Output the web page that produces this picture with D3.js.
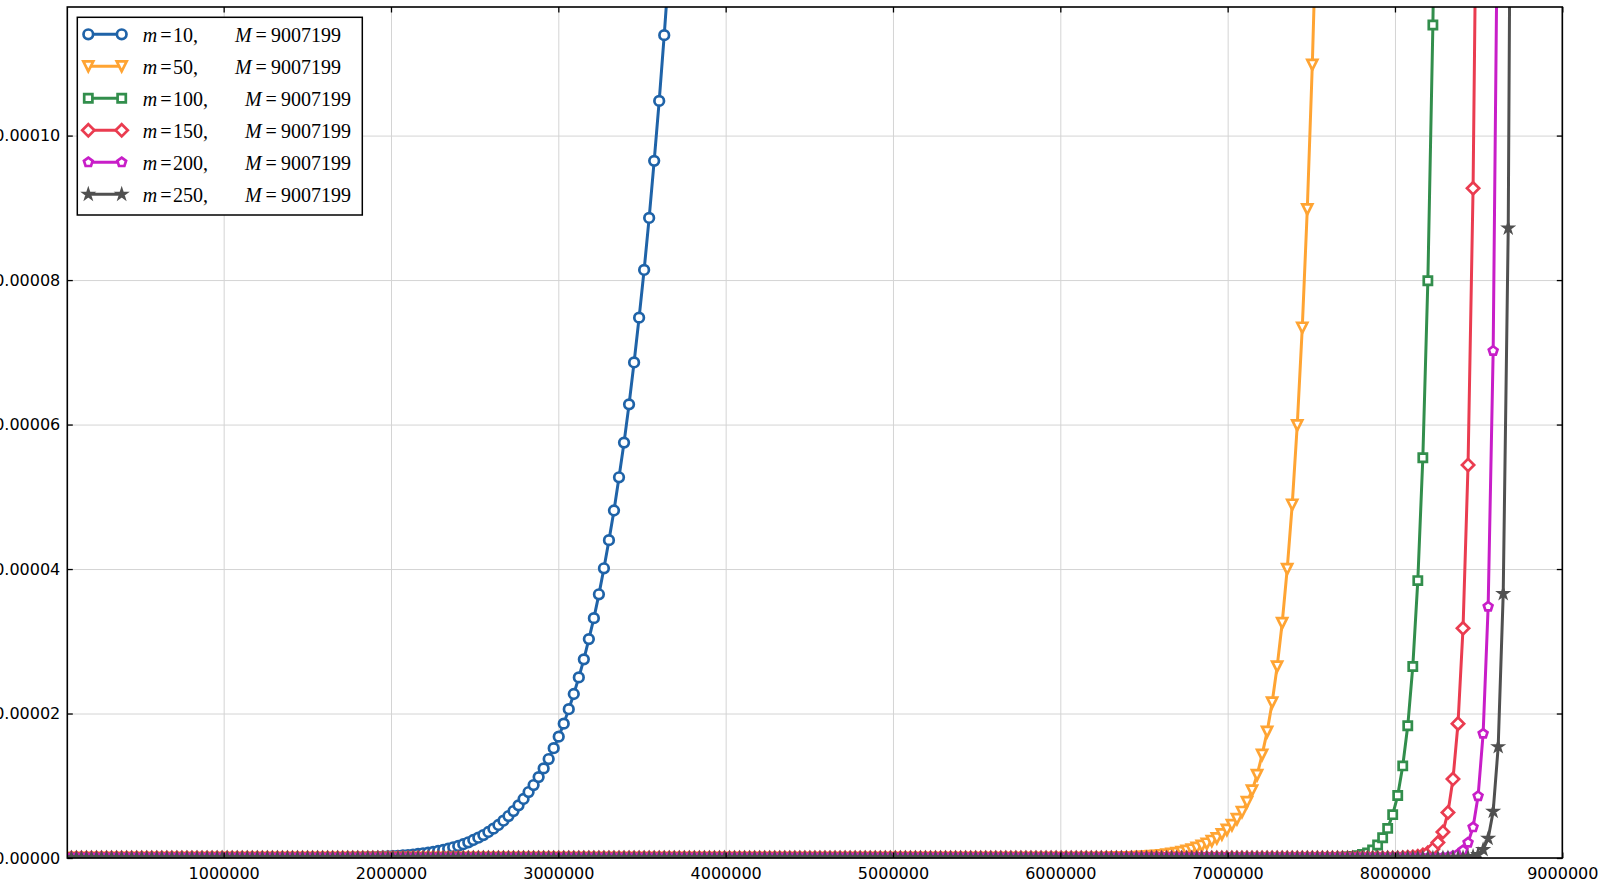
<!DOCTYPE html>
<html><head><meta charset="utf-8">
<script src="https://cdn.jsdelivr.net/npm/d3@7"></script>
<style>html,body{margin:0;padding:0;background:#fff;overflow:hidden}</style>
</head><body>
<svg id="chart" width="1600" height="893"></svg>
<script>
// ---------------- data ----------------
const M_VALUE = 9007199;
const SAMPLE_STEP = M_VALUE / 300;      // sample i sits at x = i * M / 300
const VALUE_UNIT = 1e-5;                // series values below are in units of 1e-5
const xTicks = [1000000, 2000000, 3000000, 4000000, 5000000, 6000000, 7000000, 8000000, 9000000];
const yTicks = [0, 0.00002, 0.00004, 0.00006, 0.00008, 0.00010];
const xDomain = [65536, 9000000];
const yDomain = [0, 0.0001178];
const mValues = [10, 50, 100, 150, 200, 250];

const m10Values = [
0,0,0,0,0,0,0,0,0,0, 0,0,0,0,0,0,0,0,0,0, // 0-19
0,0,0,0,0,0,0,0,0,0, 0,0,0,0,0,0,0,0,0,0, // 20-39
0,0,0,0,0,0,0,0,0,0,                      // 40-49
0,0,0,0,0,0,0,0,0.006,0.007,              // 50
0.008,0.010,0.011,0.013,0.015,0.018,0.021,0.025,0.030,0.035, // 60
0.041,0.048,0.056,0.065,0.073,0.083,0.097,0.111,0.129,0.148, // 70
0.166,0.190,0.217,0.249,0.281,0.318,0.360,0.406,0.457,0.516, // 80
0.581,0.650,0.729,0.817,0.913,1.01,1.12,1.24,1.37,1.52,      // 90
1.68,1.86,2.06,2.27,2.50,2.75,3.03,3.32,3.65,4.01,           // 100
4.40,4.81,5.27,5.75,6.28,6.86,7.48,8.14,8.86,9.65,           // 110
10.48,11.39,12.37                                            // 120
];
const m50Values = [
0,0,0,0,0,0,0,0,0,0, 0,0,0,0,0,0,0,0,0,0, // 0-19
0,0,0,0,0,0,0,0,0,0, 0,0,0,0,0,0,0,0,0,0, // 20-39
0,0,0,0,0,0,0,0,0,0, 0,0,0,0,0,0,0,0,0,0, // 40-59
0,0,0,0,0,0,0,0,0,0, 0,0,0,0,0,0,0,0,0,0, // 60-79
0,0,0,0,0,0,0,0,0,0, 0,0,0,0,0,0,0,0,0,0, // 80-99
0,0,0,0,0,0,0,0,0,0, 0,0,0,0,0,0,0,0,0,0, // 100-119
0,0,0,0,0,0,0,0,0,0, 0,0,0,0,0,0,0,0,0,0, // 120-139
0,0,0,0,0,0,0,0,0,0, 0,0,0,0,0,0,0,0,0,0, // 140-159
0,0,0,0,0,0,0,0,0,0, 0,0,0,0,0,0,0,0,0,0, // 160-179
0,0,0,0,0,0,0,0,0,0, 0,0,0,0,0,0,0,0,0,0, // 180-199
0,0,0,0,0,0,0,0,0,0,                      // 200-209
0.004,0.005,0.006,0.008,0.010,0.013,0.016,0.020,0.025,0.031, // 210
0.038,0.046,0.056,0.068,0.082,0.098,0.117,0.140,0.167,0.197, // 220
0.235,0.273,0.327,0.388,0.455,0.538,0.637,0.774,0.933,1.146, // 230
1.427,1.745,2.15,2.65,3.25,4.00,4.89,5.99,7.34,8.98,         // 240
10.98,13.42                                                  // 250
];
const m100Values = [
0,0,0,0,0,0,0,0,0,0, 0,0,0,0,0,0,0,0,0,0, // 0-19
0,0,0,0,0,0,0,0,0,0, 0,0,0,0,0,0,0,0,0,0, // 20-39
0,0,0,0,0,0,0,0,0,0, 0,0,0,0,0,0,0,0,0,0, // 40-59
0,0,0,0,0,0,0,0,0,0, 0,0,0,0,0,0,0,0,0,0, // 60-79
0,0,0,0,0,0,0,0,0,0, 0,0,0,0,0,0,0,0,0,0, // 80-99
0,0,0,0,0,0,0,0,0,0, 0,0,0,0,0,0,0,0,0,0, // 100-119
0,0,0,0,0,0,0,0,0,0, 0,0,0,0,0,0,0,0,0,0, // 120-139
0,0,0,0,0,0,0,0,0,0, 0,0,0,0,0,0,0,0,0,0, // 140-159
0,0,0,0,0,0,0,0,0,0, 0,0,0,0,0,0,0,0,0,0, // 160-179
0,0,0,0,0,0,0,0,0,0, 0,0,0,0,0,0,0,0,0,0, // 180-199
0,0,0,0,0,0,0,0,0,0, 0,0,0,0,0,0,0,0,0,0, // 200-219
0,0,0,0,0,0,0,0,0,0, 0,0,0,0,0,0,0,0,0,0, // 220-239
0,0,0,0,0,0,0,0,0,0,                      // 240-249
0,0,0,0.0035,0.005,0.0075,0.011,0.016,0.023,0.033,           // 250
0.048,0.07,0.11,0.18,0.28,0.41,0.60,0.865,1.275,1.83,        // 260
2.65,3.84,5.54,7.99,11.53,16.6                               // 270
];
const m150Values = [
0,0,0,0,0,0,0,0,0,0, 0,0,0,0,0,0,0,0,0,0, // 0-19
0,0,0,0,0,0,0,0,0,0, 0,0,0,0,0,0,0,0,0,0, // 20-39
0,0,0,0,0,0,0,0,0,0, 0,0,0,0,0,0,0,0,0,0, // 40-59
0,0,0,0,0,0,0,0,0,0, 0,0,0,0,0,0,0,0,0,0, // 60-79
0,0,0,0,0,0,0,0,0,0, 0,0,0,0,0,0,0,0,0,0, // 80-99
0,0,0,0,0,0,0,0,0,0, 0,0,0,0,0,0,0,0,0,0, // 100-119
0,0,0,0,0,0,0,0,0,0, 0,0,0,0,0,0,0,0,0,0, // 120-139
0,0,0,0,0,0,0,0,0,0, 0,0,0,0,0,0,0,0,0,0, // 140-159
0,0,0,0,0,0,0,0,0,0, 0,0,0,0,0,0,0,0,0,0, // 160-179
0,0,0,0,0,0,0,0,0,0, 0,0,0,0,0,0,0,0,0,0, // 180-199
0,0,0,0,0,0,0,0,0,0, 0,0,0,0,0,0,0,0,0,0, // 200-219
0,0,0,0,0,0,0,0,0,0, 0,0,0,0,0,0,0,0,0,0, // 220-239
0,0,0,0,0,0,0,0,0,0, 0,0,0,0,0,0,0,0,0,0, // 240-259
0,0,0,0,0,0,0,0,0.005,0.009,                                 // 260
0.015,0.025,0.043,0.073,0.125,0.213,0.36,0.63,1.092,1.86,    // 270
3.18,5.44,9.27,15.8                                          // 280
];
const m200Values = [
0,0,0,0,0,0,0,0,0,0, 0,0,0,0,0,0,0,0,0,0, // 0-19
0,0,0,0,0,0,0,0,0,0, 0,0,0,0,0,0,0,0,0,0, // 20-39
0,0,0,0,0,0,0,0,0,0, 0,0,0,0,0,0,0,0,0,0, // 40-59
0,0,0,0,0,0,0,0,0,0, 0,0,0,0,0,0,0,0,0,0, // 60-79
0,0,0,0,0,0,0,0,0,0, 0,0,0,0,0,0,0,0,0,0, // 80-99
0,0,0,0,0,0,0,0,0,0, 0,0,0,0,0,0,0,0,0,0, // 100-119
0,0,0,0,0,0,0,0,0,0, 0,0,0,0,0,0,0,0,0,0, // 120-139
0,0,0,0,0,0,0,0,0,0, 0,0,0,0,0,0,0,0,0,0, // 140-159
0,0,0,0,0,0,0,0,0,0, 0,0,0,0,0,0,0,0,0,0, // 160-179
0,0,0,0,0,0,0,0,0,0, 0,0,0,0,0,0,0,0,0,0, // 180-199
0,0,0,0,0,0,0,0,0,0, 0,0,0,0,0,0,0,0,0,0, // 200-219
0,0,0,0,0,0,0,0,0,0, 0,0,0,0,0,0,0,0,0,0, // 220-239
0,0,0,0,0,0,0,0,0,0, 0,0,0,0,0,0,0,0,0,0, // 240-259
0,0,0,0,0,0,0,0,0,0,                      // 260-269
0,0,0,0,0,0,0.0065,0.013,0.026,0.053,                        // 270
0.107,0.213,0.425,0.857,1.72,3.48,7.02,14.2                  // 280
];
const m250Values = [
0,0,0,0,0,0,0,0,0,0, 0,0,0,0,0,0,0,0,0,0, // 0-19
0,0,0,0,0,0,0,0,0,0, 0,0,0,0,0,0,0,0,0,0, // 20-39
0,0,0,0,0,0,0,0,0,0, 0,0,0,0,0,0,0,0,0,0, // 40-59
0,0,0,0,0,0,0,0,0,0, 0,0,0,0,0,0,0,0,0,0, // 60-79
0,0,0,0,0,0,0,0,0,0, 0,0,0,0,0,0,0,0,0,0, // 80-99
0,0,0,0,0,0,0,0,0,0, 0,0,0,0,0,0,0,0,0,0, // 100-119
0,0,0,0,0,0,0,0,0,0, 0,0,0,0,0,0,0,0,0,0, // 120-139
0,0,0,0,0,0,0,0,0,0, 0,0,0,0,0,0,0,0,0,0, // 140-159
0,0,0,0,0,0,0,0,0,0, 0,0,0,0,0,0,0,0,0,0, // 160-179
0,0,0,0,0,0,0,0,0,0, 0,0,0,0,0,0,0,0,0,0, // 180-199
0,0,0,0,0,0,0,0,0,0, 0,0,0,0,0,0,0,0,0,0, // 200-219
0,0,0,0,0,0,0,0,0,0, 0,0,0,0,0,0,0,0,0,0, // 220-239
0,0,0,0,0,0,0,0,0,0, 0,0,0,0,0,0,0,0,0,0, // 240-259
0,0,0,0,0,0,0,0,0,0, 0,0,0,0,0,0,0,0,0,0, // 260-279
0.0036,0.0085,0.020,0.048,0.115,0.27,0.645,1.54,3.66,8.72,   // 280
20.7                                                         // 290
];

const seriesValues = [m10Values, m50Values, m100Values, m150Values, m200Values, m250Values];

// ---------------- styles ----------------
const seriesColors = ["#1f63a8", "#ffa433", "#328e4c", "#ea3c50", "#c81ec8", "#505050"];
const seriesMarkers = ["circle", "triangleDown", "square", "diamond", "pentagon", "star"];

function markerPath(type) {
  if (type === "circle") return d3.symbol(d3.symbolCircle, Math.PI * 4.8 * 4.8)();
  if (type === "triangleDown") { const s = 5; return `M0,${s}L${-s},${-s}L${s},${-s}Z`; }
  if (type === "square") { const a = 4.1; return `M${-a},${-a}H${a}V${a}H${-a}Z`; }
  if (type === "diamond") { const d = 6.1; return `M0,${-d}L${d},0L0,${d}L${-d},0Z`; }
  if (type === "pentagon") {
    const r = 4.6;
    return d3.range(5).map(k => {
      const a = -Math.PI / 2 + k * 2 * Math.PI / 5;
      return (k ? "L" : "M") + (r * Math.cos(a)).toFixed(2) + "," + (r * Math.sin(a)).toFixed(2);
    }).join("") + "Z";
  }
  return d3.symbol(d3.symbolStar, 19)();
}

// ---------------- layout ----------------
const L = 67.3, R = 1562.3, T = 7, B = 858;
const LINE_W = 3, EDGE_W = 2.7;
const svg = d3.select("#chart");
const x = d3.scaleLinear().domain(xDomain).range([L, R]);
const y = d3.scaleLinear().domain(yDomain).range([B, T]);

svg.append("rect").attr("width", 1600).attr("height", 893).attr("fill", "#fff");

// grid
const gx = svg.append("g").attr("transform", `translate(0,${B})`)
  .call(d3.axisBottom(x).tickValues(xTicks).tickSize(-(B - T)).tickFormat(""));
const gy = svg.append("g").attr("transform", `translate(${L},0)`)
  .call(d3.axisLeft(y).tickValues(yTicks).tickSize(-(R - L)).tickFormat(""));
[gx, gy].forEach(g => {
  g.select(".domain").remove();
  g.selectAll(".tick line").attr("stroke", "#d4d4d4").attr("stroke-width", 1);
});

// data
svg.append("clipPath").attr("id", "plotclip")
  .append("rect").attr("x", L).attr("y", T).attr("width", R - L).attr("height", B - T);
const plot = svg.append("g").attr("clip-path", "url(#plotclip)");
const line = d3.line().x(d => x(d.x)).y(d => y(d.y));

seriesValues.forEach((vals, k) => {
  const pts = vals.map((v, i) => ({ x: i * SAMPLE_STEP, y: v * VALUE_UNIT }));
  const g = plot.append("g");
  g.append("path").datum(pts).attr("d", line)
    .attr("fill", "none").attr("stroke", seriesColors[k])
    .attr("stroke-width", LINE_W).attr("stroke-linejoin", "round");
  const mp = markerPath(seriesMarkers[k]);
  g.selectAll("path.mk").data(pts).enter().append("path").attr("class", "mk")
    .attr("d", mp)
    .attr("transform", d => `translate(${x(d.x)},${y(d.y)})`)
    .attr("fill", "#fff").attr("stroke", seriesColors[k]).attr("stroke-width", EDGE_W)
    .attr("stroke-linejoin", "miter");
});

// axes
const fontTick = "'DejaVu Sans', sans-serif";
const axB = svg.append("g").attr("transform", `translate(0,${B})`)
  .call(d3.axisBottom(x).tickValues(xTicks).tickSizeInner(-5.5).tickSizeOuter(0)
    .tickPadding(9.6).tickFormat(d3.format("d")));
const axT = svg.append("g").attr("transform", `translate(0,${T})`)
  .call(d3.axisTop(x).tickValues(xTicks).tickSizeInner(-5.5).tickSizeOuter(0).tickFormat(""));
const axL = svg.append("g").attr("transform", `translate(${L},0)`)
  .call(d3.axisLeft(y).tickValues(yTicks).tickSizeInner(-5.5).tickSizeOuter(0)
    .tickPadding(7).tickFormat(d => d.toFixed(5)));
const axR = svg.append("g").attr("transform", `translate(${R},0)`)
  .call(d3.axisRight(y).tickValues(yTicks).tickSizeInner(-5.5).tickSizeOuter(0).tickFormat(""));
[axB, axT, axL, axR].forEach(g => {
  g.select(".domain").remove();
  g.selectAll(".tick line").attr("stroke", "#000").attr("stroke-width", 1.3);
  g.selectAll(".tick text").attr("font-family", fontTick).attr("font-size", 16).attr("fill", "#000");
});

// frame
svg.append("rect").attr("x", L).attr("y", T).attr("width", R - L).attr("height", B - T)
  .attr("fill", "none").attr("stroke", "#000").attr("stroke-width", 1.6);

// legend
const lg = svg.append("g");
lg.append("rect").attr("x", 77.3).attr("y", 17.3).attr("width", 285).attr("height", 197.7)
  .attr("fill", "#fff").attr("stroke", "#000").attr("stroke-width", 1.5);
mValues.forEach((m, k) => {
  const cy = 34.3 + 32 * k;
  lg.append("line").attr("x1", 88.3).attr("x2", 121.7).attr("y1", cy).attr("y2", cy)
    .attr("stroke", seriesColors[k]).attr("stroke-width", LINE_W);
  [88.3, 121.7].forEach(cx => lg.append("path").attr("d", markerPath(seriesMarkers[k]))
    .attr("transform", `translate(${cx},${cy})`)
    .attr("fill", "#fff").attr("stroke", seriesColors[k]).attr("stroke-width", EDGE_W));
  const t = lg.append("text").attr("x", 142.7).attr("y", cy + 7.4)
    .attr("font-family", "'Liberation Serif', 'Times New Roman', serif").attr("font-size", 20).attr("fill", "#000");
  t.append("tspan").attr("font-style", "italic").text("m");
  t.append("tspan").attr("dx", 3).text("=");
  t.append("tspan").attr("dx", 1.5).text(m + ",");
  t.append("tspan").attr("dx", 37).attr("font-style", "italic").text("M");
  t.append("tspan").attr("dx", 4).text("=");
  t.append("tspan").attr("dx", 4).text(String(M_VALUE));
});
</script>
</body></html>
